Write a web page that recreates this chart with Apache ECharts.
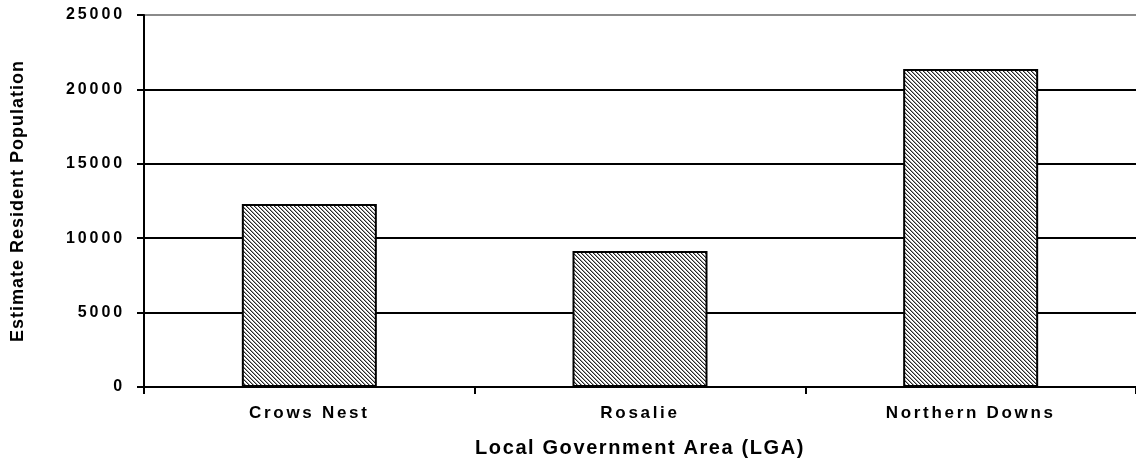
<!DOCTYPE html>
<html>
<head>
<meta charset="utf-8">
<style>
  html, body { margin: 0; padding: 0; background: #fff; }
  #chart { width: 1136px; height: 464px; }
</style>
<script src="https://cdn.jsdelivr.net/npm/echarts@6/dist/echarts.min.js"></script>
</head>
<body>
<div id="chart"></div>
<script>
// Estimated resident population by local government area
const categories = ['Crows Nest', 'Rosalie', 'Northern Downs'];
const population = [12300, 9140, 21370];
const yTicks = [0, 5000, 10000, 15000, 20000, 25000];

// Wide letter tracking for the chart's text, keyed by font size
const tracking = { 16: 2.9, 17: 2.7, 18: 1.0, 20: 1.6 };
const baseFillText = CanvasRenderingContext2D.prototype.fillText;
CanvasRenderingContext2D.prototype.fillText = function (text, x, y, maxWidth) {
  const m = /(\d+(?:\.\d+)?)px/.exec(this.font || '');
  const size = m ? Math.round(+m[1]) : 0;
  if ('letterSpacing' in this) this.letterSpacing = (tracking[size] || 0) + 'px';
  if (maxWidth === undefined) baseFillText.call(this, text, x, y);
  else baseFillText.call(this, text, x, y, maxWidth);
  if ('letterSpacing' in this) this.letterSpacing = '0px';
};

// Diagonal hatch fill for the bars
function hatchPattern() {
  const c = document.createElement('canvas');
  c.width = 4; c.height = 4;
  const ctx = c.getContext('2d');
  ctx.fillStyle = '#fff';
  ctx.fillRect(0, 0, 4, 4);
  for (let y = 0; y < 4; y++) {
    ctx.fillStyle = '#262626';
    ctx.fillRect(y, y, 1, 1);
    ctx.fillStyle = '#a0a0a0';
    ctx.fillRect((y + 1) % 4, y, 1, 1);
  }
  return c;
}

const font = '"Liberation Sans", Arial, sans-serif';
const chart = echarts.init(document.getElementById('chart'), null, { renderer: 'canvas' });

chart.setOption({
  animation: false,
  backgroundColor: '#fff',
  grid: { left: 144, right: 0, top: 15, bottom: 77, containLabel: false },
  xAxis: {
    type: 'category',
    data: categories,
    boundaryGap: true,
    name: 'Local Government Area (LGA)',
    nameLocation: 'middle',
    nameGap: 51,
    nameTextStyle: { fontFamily: font, fontWeight: 'bold', fontSize: 20, color: '#000' },
    axisLine: { lineStyle: { color: '#000', width: 2 } },
    axisTick: { show: true, alignWithLabel: false, length: 7, lineStyle: { color: '#000', width: 2 } },
    axisLabel: { margin: 18, fontFamily: font, fontWeight: 'bold', fontSize: 17, color: '#000' },
    splitLine: { show: false }
  },
  yAxis: {
    type: 'value',
    min: yTicks[0],
    max: yTicks[yTicks.length - 1],
    interval: yTicks[1] - yTicks[0],
    name: 'Estimate Resident Population',
    nameLocation: 'middle',
    nameGap: 117,
    nameTextStyle: { fontFamily: font, fontWeight: 'bold', fontSize: 18, color: '#000' },
    axisLine: { show: true, lineStyle: { color: '#000', width: 2 } },
    axisTick: { show: true, inside: false, length: 7, lineStyle: { color: '#000', width: 2 } },
    axisLabel: {
      margin: 19, fontFamily: font, fontWeight: 'bold', fontSize: 16, color: '#000',
      formatter: function (v) { return String(v); }
    },
    splitLine: { show: true, lineStyle: { color: ['#000', '#000', '#000', '#000', '#000', '#8a8a8a'], width: 2 } }
  },
  series: [{
    type: 'bar',
    data: population,
    barWidth: 135,
    itemStyle: {
      color: { image: hatchPattern(), repeat: 'repeat' },
      borderColor: '#000',
      borderWidth: 2
    }
  }]
});
</script>
</body>
</html>
